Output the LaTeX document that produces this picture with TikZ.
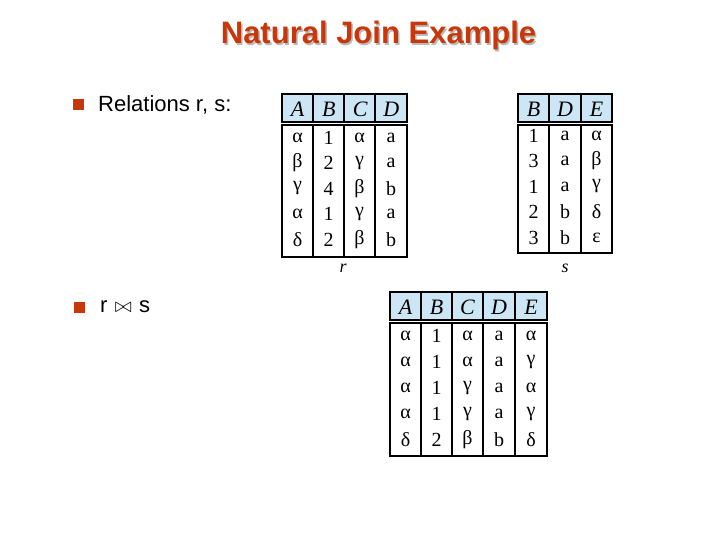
\documentclass[tikz,border=0pt]{standalone}
\usepackage{fontspec}
\setmainfont{Liberation Serif}
\newfontfamily\arialf{Liberation Sans}
\definecolor{ttl}{RGB}{200,55,10}
\definecolor{hdr}{RGB}{204,230,246}
\begin{document}
\begin{tikzpicture}[x=1pt,y=-1pt,
  cell/.style={inner sep=0pt,font=\fontsize{20}{20}\selectfont},
  hcell/.style={inner sep=0pt,font=\fontsize{22}{22}\selectfont\itshape},
  box/.style={line width=1.6pt},
  bul/.style={fill=ttl,minimum size=11pt,inner sep=0pt},
  btxt/.style={anchor=west,inner sep=0pt,font=\arialf\fontsize{22}{22}\selectfont}]
\useasboundingbox (0,0) rectangle (720,540);
\node[font=\arialf\bfseries\fontsize{31}{31}\selectfont,text=gray!55] at (380,37) {Natural Join Example};
\node (title) [font=\arialf\bfseries\fontsize{31}{31}\selectfont,text=ttl] at (378.5,35) {Natural Join Example};
\node (b1) [bul] at (78,105) {};
\node (t1) [btxt] at (98,105) {Relations r, s:};
\node (b2) [bul] at (79,307) {};
\node (t2) [btxt] at (100,307) {r\,\,{\fontsize{20}{20}\selectfont$\bowtie$}\,\,s};
\newcommand{\mytable}[7]{%
  \fill[hdr] (#1,#3) rectangle (#2,#4);
  \draw[box] (#1,#3) rectangle (#2,#4);
  \draw[box] (#1,#5) rectangle (#2,#6);
  \foreach \cx in {#7} {\draw[box] (\cx,#3) -- (\cx,#4); \draw[box] (\cx,#5) -- (\cx,#6);}
}
% table r
\mytable{282}{407}{94}{122}{125}{257}{313,344,375}
\foreach \h [count=\i] in {A,B,C,D} \node[hcell] (rh\i) at (282+31.25*\i-15.6,109) {\h};
\foreach \a/\b/\c/\d [count=\j] in {α/1/α/a,β/2/γ/a,γ/4/β/b,α/1/γ/a,δ/2/β/b}{
  \node[cell] (ra\j) at (297.5,112+25.5*\j) {\a};
  \node[cell] (rb\j) at (328.5,112+25.5*\j) {\b};
  \node[cell] (rc\j) at (359.5,112+25.5*\j) {\c};
  \node[cell] (rd\j) at (391,112+25.5*\j) {\d};
}
\node (rl) [cell,font=\fontsize{18}{18}\selectfont\itshape] at (343,268) {r};
% table s
\mytable{518}{612}{94}{122}{125}{253}{549,581}
\foreach \h/\x [count=\i] in {B/533.5,D/565,E/596.5} \node[hcell] (sh\i) at (\x,109) {\h};
\foreach \a/\b/\c [count=\j] in {1/a/α,3/a/β,1/a/γ,2/b/δ,3/b/ε}{
  \node[cell] (sa\j) at (533.5,110+25.5*\j) {\a};
  \node[cell] (sb\j) at (565,110+25.5*\j) {\b};
  \node[cell] (sc\j) at (596.5,110+25.5*\j) {\c};
}
\node (sl) [cell,font=\fontsize{18}{18}\selectfont\itshape] at (565,268) {s};
% result
\mytable{390}{547}{292}{320}{323}{456}{421,452,483,515}
\foreach \h/\x [count=\i] in {A/405.5,B/436.5,C/467.5,D/499,E/531} \node[hcell] (jh\i) at (\x,307) {\h};
\foreach \a/\b/\c/\d/\e [count=\j] in {α/1/α/a/α,α/1/α/a/γ,α/1/γ/a/α,α/1/γ/a/γ,δ/2/β/b/δ}{
  \node[cell] (ja\j) at (405.5,310+26*\j) {\a};
  \node[cell] (jb\j) at (436.5,310+26*\j) {\b};
  \node[cell] (jc\j) at (467.5,310+26*\j) {\c};
  \node[cell] (jd\j) at (499,310+26*\j) {\d};
  \node[cell] (je\j) at (531,310+26*\j) {\e};
}
\end{tikzpicture}
\end{document}
